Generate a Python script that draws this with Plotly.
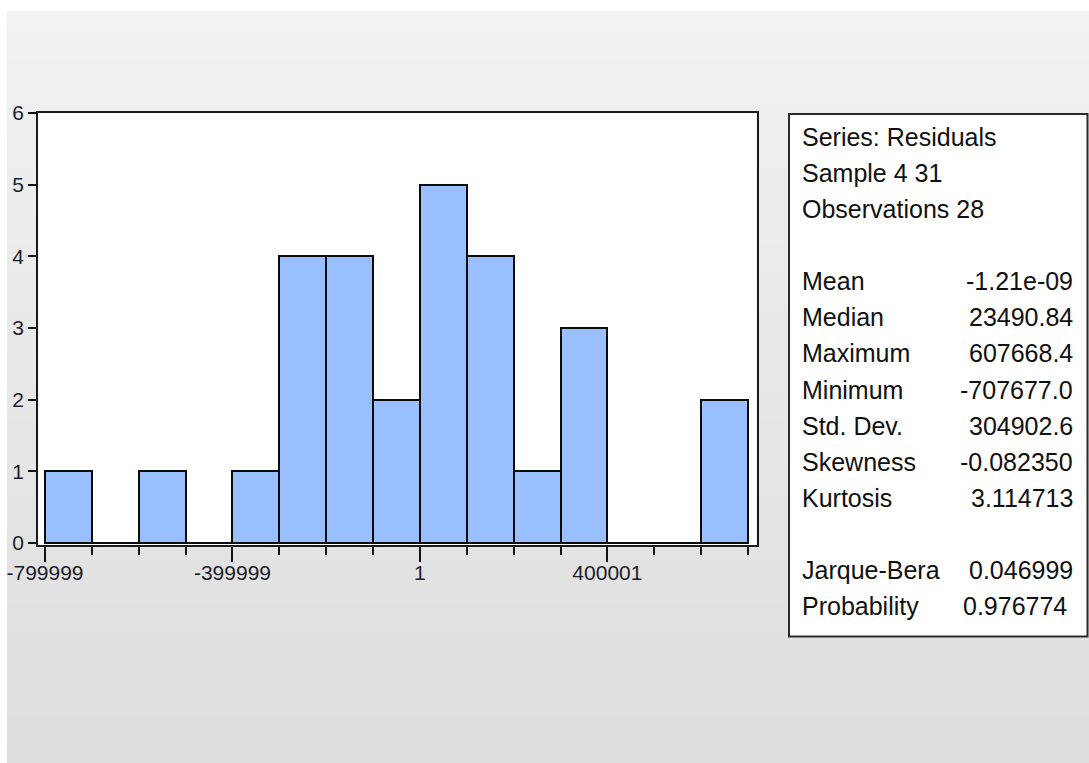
import plotly.graph_objects as go

# Histogram of regression residuals (EViews-style descriptive statistics view)
bin_left_edges = [-800000, -700000, -600000, -500000, -400000, -300000, -200000, -100000,
                  0, 100000, 200000, 300000, 400000, 500000, 600000]
bin_counts = [1, 0, 1, 0, 1, 4, 4, 2, 5, 4, 1, 3, 0, 0, 2]
bin_width = 100000

x_tick_values = [-800000, -400000, 0, 400000]
x_tick_labels = ["-799999", "-399999", "1", "400001"]
y_tick_values = [0, 1, 2, 3, 4, 5, 6]

stat_header = ["Series: Residuals", "Sample 4 31", "Observations 28"]
stat_names = ["Mean", "Median", "Maximum", "Minimum", "Std. Dev.", "Skewness", "Kurtosis"]
stat_values = ["-1.21e-09", "23490.84", "607668.4", "-707677.0", "304902.6", "-0.082350", "3.114713"]
test_names = ["Jarque-Bera", "Probability"]
test_values = ["0.046999", "0.976774"]

W, H = 1089, 763


def px(x):
    return x / W


def py(y):
    return 1 - y / H


bin_centers = [e + bin_width / 2 for e in bin_left_edges]
minor_ticks = bin_left_edges + [bin_left_edges[-1] + bin_width]

fig = go.Figure()
fig.add_trace(go.Bar(
    x=bin_centers,
    y=bin_counts,
    width=[bin_width] * len(bin_counts),
    marker=dict(color="#99BFFF", line=dict(color="#0a0a0a", width=2)),
    hoverinfo="skip",
))

shapes = []
# soft vertical gray gradient behind the whole view
n_bands = 48
top, bottom = 11, H
for i in range(n_bands):
    y0 = top + (bottom - top) * i / n_bands
    y1 = top + (bottom - top) * (i + 1) / n_bands + 1
    t = (i + 0.5) / n_bands
    g = round(242 - 21 * t)
    shapes.append(dict(type="rect", xref="paper", yref="paper", layer="below",
                       x0=px(7), x1=1, y0=py(min(y1, H)), y1=py(y0),
                       fillcolor=f"rgb({g},{g},{g})", line=dict(width=0)))
# white plotting area
shapes.append(dict(type="rect", xref="paper", yref="paper", layer="below",
                   x0=px(38), x1=px(756.5), y0=py(545), y1=py(113),
                   fillcolor="white", line=dict(width=0)))
# statistics panel
shapes.append(dict(type="rect", xref="paper", yref="paper", layer="below",
                   x0=px(789), x1=px(1087.5), y0=py(636.5), y1=py(114),
                   fillcolor="white", line=dict(color="#2a2a2a", width=2)))

annotations = []
text_font = dict(family="Liberation Sans, Arial, sans-serif", size=25, color="#101010")
line_y0, line_step = 136.5, 36.15
rows = []
for i, s in enumerate(stat_header):
    rows.append((i, s, None))
for i, (n, v) in enumerate(zip(stat_names, stat_values)):
    rows.append((4 + i, n, v))
for i, (n, v) in enumerate(zip(test_names, test_values)):
    rows.append((12 + i, n, v))
for k, name, val in rows:
    yc = line_y0 + line_step * k
    annotations.append(dict(xref="paper", yref="paper", x=px(800), y=py(yc),
                            xanchor="left", yanchor="middle", text=name,
                            showarrow=False, font=text_font))
    if val is not None:
        xr = 1069 if name == "Probability" else 1075
        annotations.append(dict(xref="paper", yref="paper", x=px(xr), y=py(yc),
                                xanchor="right", yanchor="middle", text=val,
                                showarrow=False, font=text_font))

tick_font = dict(family="Liberation Sans, Arial, sans-serif", size=21, color="#1c1c2a")

fig.update_layout(
    width=W, height=H,
    margin=dict(l=0, r=0, t=0, b=0, pad=0, autoexpand=False),
    paper_bgcolor="white",
    plot_bgcolor="rgba(0,0,0,0)",
    showlegend=False,
    bargap=0,
    shapes=shapes,
    annotations=annotations,
    xaxis=dict(
        domain=[px(38), px(756.5)],
        range=[-814936, 718136],
        automargin=False,
        tickmode="array", tickvals=x_tick_values, ticktext=x_tick_labels,
        ticks="outside", ticklen=15, tickwidth=1.6, tickcolor="#111111",
        ticklabelstandoff=-7,
        minor=dict(tickmode="array", tickvals=minor_ticks, ticks="outside",
                   ticklen=8, tickwidth=1.6, tickcolor="#111111", showgrid=False),
        showline=True, linecolor="#1a1a1a", linewidth=1.8, mirror=True,
        showgrid=False, zeroline=False, tickfont=tick_font, fixedrange=True,
    ),
    yaxis=dict(
        domain=[py(545), py(113)],
        range=[-0.0279, 6.0],
        automargin=False,
        tickmode="array", tickvals=y_tick_values,
        ticks="outside", ticklen=8, tickwidth=1.6, tickcolor="#111111",
        showline=True, linecolor="#1a1a1a", linewidth=1.8, mirror=True,
        showgrid=False, zeroline=False, tickfont=tick_font, fixedrange=True,
    ),
)

fig.write_html("out.html", config={"displayModeBar": False})
